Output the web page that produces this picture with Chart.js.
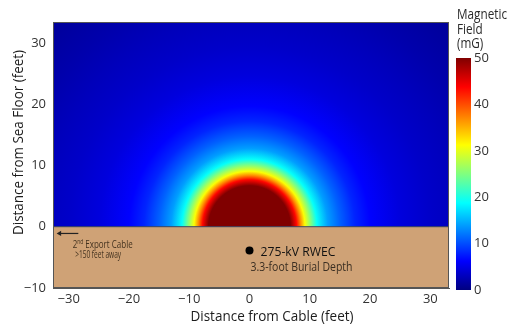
<!DOCTYPE html>
<html>
<head>
<meta charset="utf-8">
<script src="https://cdn.jsdelivr.net/npm/chart.js@4.4.1/dist/chart.umd.min.js"></script>
<style>
  html, body { margin: 0; padding: 0; background: #fff; }
  #wrap { position: relative; width: 508px; height: 331px; }
  #fieldChart { position: absolute; left: 0; top: 0; }
  #scaleChart { position: absolute; left: 450px; top: 0; }
</style>
</head>
<body>
<div id="wrap">
  <canvas id="fieldChart" width="508" height="331"></canvas>
  <canvas id="scaleChart" width="58" height="331"></canvas>
</div>
<script>
// Field: distance (feet) from the sea floor point above the cable -> field (mG)
const fieldDist = [0, 6.8, 7.8, 8.5, 9.2, 10.2, 11.2, 13, 15, 17.5, 20, 25, 30, 35, 40, 48];
const fieldMG = [50, 50, 43.5, 37, 31, 25, 19, 14, 11, 8, 6.3, 4.6, 3.6, 2.9, 2.2, 1.2];

const cablePos = [0, -3.9];
const seaFloorX = [-40, 40];
const seaFloorY = [0, 0];
const arrowX = [-31.5, -28.4];
const arrowY = [-1.1, -1.1];

const xTicks = [-30, -20, -10, 0, 10, 20, 30];
const yTicks = [-10, 0, 10, 20, 30];
const scaleTicks = [0, 10, 20, 30, 40, 50];

const xMin = -32.6, xMax = 33.1;
const yMin = -10, yMax = 33.4;
const scaleMax = 50;

const FONT = 'Open Sans';
const jetKnots = [0, 0.125, 0.375, 0.625, 0.875, 1];

// jet colour map
function jet(v) {
    const t = Math.max(0, Math.min(1, v / scaleMax));
    const c = x => Math.round(255 * Math.max(0, Math.min(1, x)));
    const r = Math.min(4 * t - 1.5, -4 * t + 4.5);
    const g = Math.min(4 * t - 0.5, -4 * t + 3.5);
    const b = Math.min(4 * t + 0.5, -4 * t + 2.5);
    return `rgb(${c(r)}, ${c(g)}, ${c(b)})`;
}

const lastDist = fieldDist[fieldDist.length - 1];

function fieldRadius(chart) {
    const xs = chart.scales.x;
    if (!xs) return 0;
    const r = xs.getPixelForValue(lastDist) - xs.getPixelForValue(0);
    return isFinite(r) ? r : 0;
}

function fieldGradient(chart) {
    const { x, y } = chart.scales;
    const fallback = jet(fieldMG[fieldMG.length - 1]);
    if (!x || !y) return fallback;
    const cx = x.getPixelForValue(0);
    const cy = y.getPixelForValue(0);
    const R = x.getPixelForValue(lastDist) - cx;
    if (!isFinite(cx) || !isFinite(cy) || !isFinite(R) || R <= 0) return fallback;
    const g = chart.ctx.createRadialGradient(cx, cy, 0, cx, cy, R);
    fieldDist.forEach((d, i) => g.addColorStop(d / lastDist, jet(fieldMG[i])));
    return g;
}

// text squeezed/stretched to a given width
function drawFitted(ctx, text, x, y, width, align) {
    const w = ctx.measureText(text).width;
    ctx.save();
    ctx.translate(x, y);
    ctx.scale(width / w, 1);
    ctx.textAlign = align || 'left';
    ctx.fillText(text, 0, 0);
    ctx.restore();
}

const minus = v => String(v).replace('-', '\u2212');

// labels on the chart
const annotations = {
    id: 'annotations',
    afterDatasetsDraw(chart) {
        const { ctx, scales: { x, y } } = chart;
        const px = x.getPixelForValue(cablePos[0]);
        const py = y.getPixelForValue(cablePos[1]);
        ctx.save();
        ctx.textBaseline = 'alphabetic';

        ctx.fillStyle = '#111';
        ctx.font = `13.5px "${FONT}"`;
        drawFitted(ctx, '275-kV RWEC', px + 11, py + 5, 75);

        ctx.fillStyle = '#3a2e22';
        ctx.font = `12px "${FONT}"`;
        drawFitted(ctx, '3.3-foot Burial Depth', px + 1, py + 20, 102);

        // 2nd Export Cable
        const ax = x.getPixelForValue(arrowX[0]);
        const ay = y.getPixelForValue(arrowY[0]);
        ctx.fillStyle = '#43321f';
        const parts = [['2', 10.5, 0], ['nd', 6.5, -4], [' Export Cable', 10.5, 0]];
        let total = 0;
        parts.forEach(p => { ctx.font = `${p[1]}px "${FONT}"`; p.push(ctx.measureText(p[0]).width); total += p[3]; });
        const k = 60 / total;
        ctx.save();
        ctx.translate(ax + 13, ay + 15);
        ctx.scale(k, 1);
        let cx = 0;
        parts.forEach(p => {
            ctx.font = `${p[1]}px "${FONT}"`;
            ctx.fillText(p[0], cx, p[2]);
            cx += p[3];
        });
        ctx.restore();
        ctx.font = `10.5px "${FONT}"`;
        drawFitted(ctx, '>150 feet away', ax + 15.5, ay + 24.5, 46);

        // plot frame
        const a = chart.chartArea;
        ctx.strokeStyle = '#555';
        ctx.lineWidth = 1;
        ctx.strokeRect(a.left + 0.5, a.top + 0.5, a.right - a.left - 1, a.bottom - a.top - 1);
        ctx.restore();
    },
    afterDraw(chart) {
        const { ctx, chartArea: a } = chart;
        ctx.save();
        ctx.fillStyle = '#1c1c1c';
        ctx.font = `14.5px "${FONT}"`;
        ctx.textBaseline = 'alphabetic';
        drawFitted(ctx, 'Distance from Cable (feet)', (a.left + a.right) / 2 + 21, 320.5, 163, 'center');
        ctx.translate(23, 142.5);
        ctx.rotate(-Math.PI / 2);
        drawFitted(ctx, 'Distance from Sea Floor (feet)', 0, 0, 185, 'center');
        ctx.restore();
    }
};

const fieldChart = new Chart(document.getElementById('fieldChart'), {
    type: 'scatter',
    data: {
        datasets: [
            {
                label: 'Cable',
                data: [{ x: cablePos[0], y: cablePos[1] }],
                pointRadius: 4,
                pointBackgroundColor: '#000',
                pointBorderWidth: 0,
                order: 0
            },
            {
                label: 'Arrow',
                type: 'line',
                data: arrowX.map((v, i) => ({ x: v, y: arrowY[i] })),
                borderColor: '#222',
                borderWidth: 1.2,
                pointRadius: [3, 0],
                pointStyle: 'triangle',
                pointRotation: -90,
                pointBackgroundColor: '#222',
                pointBorderWidth: 0,
                order: 1
            },
            {
                label: 'Sea floor',
                type: 'line',
                data: seaFloorX.map((v, i) => ({ x: v, y: seaFloorY[i] })),
                fill: 'start',
                backgroundColor: 'rgb(207, 162, 118)',
                borderColor: '#3c4561',
                borderWidth: 1,
                pointRadius: 0,
                clip: 0,
                order: 2
            },
            {
                label: 'Magnetic Field',
                data: [{ x: 0, y: 0 }],
                pointRadius: ctx => fieldRadius(ctx.chart),
                pointBackgroundColor: ctx => fieldGradient(ctx.chart),
                pointBorderWidth: 0,
                clip: 0,
                order: 3
            }
        ]
    },
    options: {
        responsive: false,
        animation: false,
        events: [],
        layout: { padding: { top: 22, right: 59, left: 0, bottom: 0 } },
        plugins: {
            legend: { display: false },
            tooltip: { enabled: false }
        },
        scales: {
            x: {
                type: 'linear',
                min: xMin,
                max: xMax,
                afterBuildTicks: s => { s.ticks = xTicks.map(v => ({ value: v })); },
                afterFit: s => { s.height = 43; },
                grid: { display: false, drawTicks: false },
                border: { display: true, color: '#555' },
                ticks: { padding: 3, color: '#333', font: { family: FONT, size: 13 }, callback: minus }
            },
            y: {
                type: 'linear',
                min: yMin,
                max: yMax,
                afterBuildTicks: s => { s.ticks = yTicks.map(v => ({ value: v })); },
                afterFit: s => { s.width = 53; },
                grid: { display: false, drawTicks: false },
                border: { display: true, color: '#555' },
                ticks: { padding: 7, color: '#333', font: { family: FONT, size: 13 }, callback: minus }
            }
        }
    },
    plugins: [annotations]
});

// colour bar
const scaleTitle = {
    id: 'scaleTitle',
    afterDraw(chart) {
        const ctx = chart.ctx;
        ctx.save();
        ctx.fillStyle = '#2a2a2a';
        ctx.font = `14px "${FONT}"`;
        ctx.textBaseline = 'alphabetic';
        const k = 50 / ctx.measureText('Magnetic').width;
        ['Magnetic', 'Field', '(mG)'].forEach((t, i) => {
            drawFitted(ctx, t, 7, 19 + i * 14.5, ctx.measureText(t).width * k);
        });
        ctx.restore();
    }
};

const scaleChart = new Chart(document.getElementById('scaleChart'), {
    type: 'bar',
    data: {
        labels: ['Magnetic Field (mG)'],
        datasets: [{
            data: [[scaleTicks[0], scaleTicks[scaleTicks.length - 1]]],
            backgroundColor: ctx => {
                const { chartArea, ctx: c } = ctx.chart;
                if (!chartArea) return jet(25);
                const g = c.createLinearGradient(0, chartArea.bottom, 0, chartArea.top);
                jetKnots.forEach(t => g.addColorStop(t, jet(t * scaleMax)));
                return g;
            },
            borderWidth: 0,
            barPercentage: 1,
            categoryPercentage: 1
        }]
    },
    options: {
        responsive: false,
        animation: false,
        events: [],
        layout: { padding: { top: 58, bottom: 41, left: 6, right: 0 } },
        plugins: {
            legend: { display: false },
            tooltip: { enabled: false }
        },
        scales: {
            x: { display: false },
            y: {
                position: 'right',
                min: 0,
                max: scaleMax,
                afterBuildTicks: s => { s.ticks = scaleTicks.map(v => ({ value: v })); },
                afterFit: s => { s.width = 37; },
                grid: { display: false, drawTicks: false },
                border: { display: false },
                ticks: { padding: 3, color: '#333', font: { family: FONT, size: 13 } }
            }
        }
    },
    plugins: [scaleTitle]
});
</script>
</body>
</html>
